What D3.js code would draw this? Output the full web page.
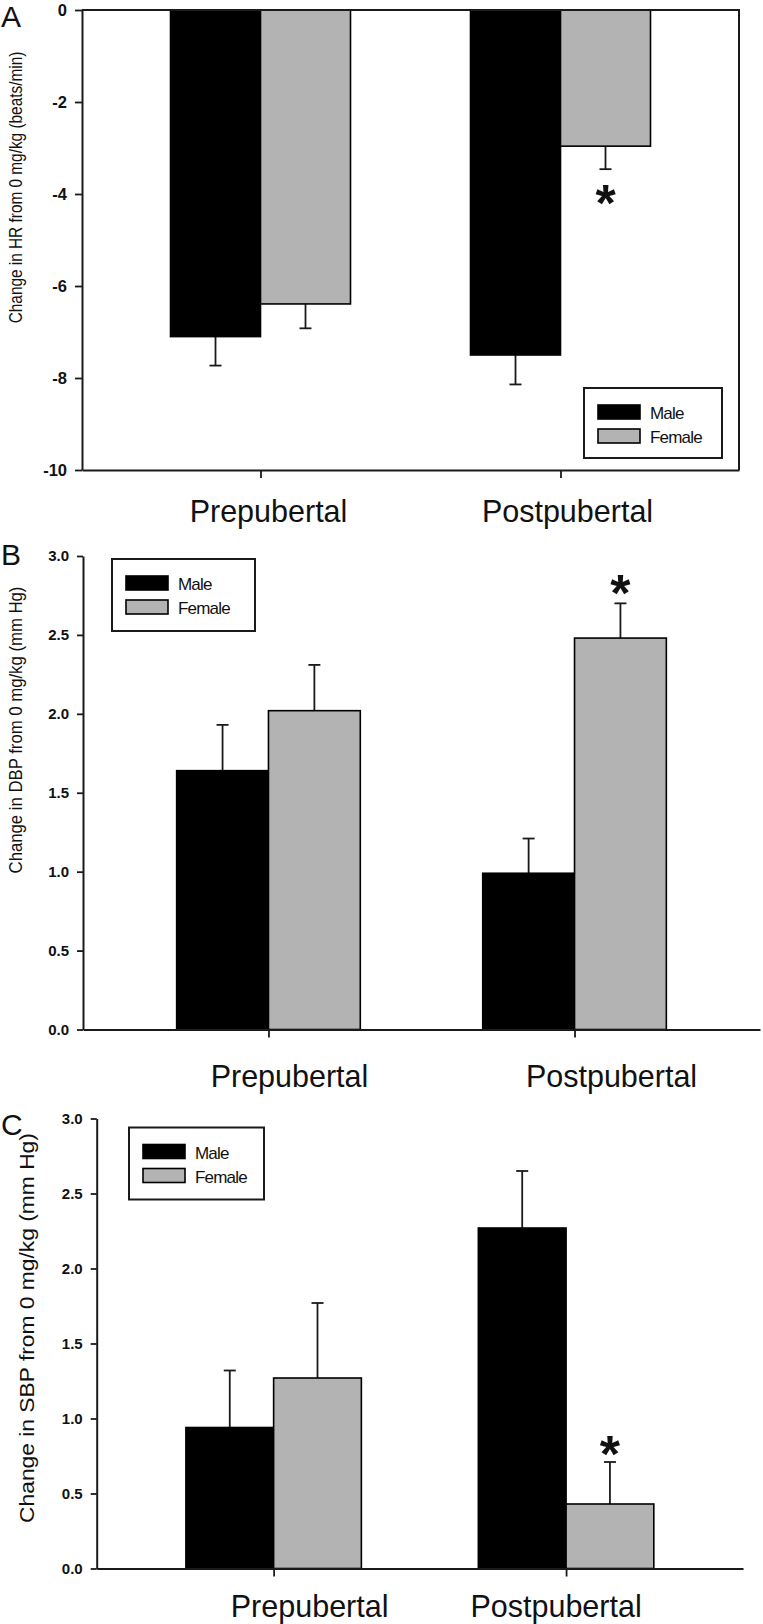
<!DOCTYPE html>
<html>
<head>
<meta charset="utf-8">
<script src="https://cdn.jsdelivr.net/npm/d3@7"></script>
<style>
  html, body { margin: 0; padding: 0; background: #fff; }
  svg { display: block; }
  text { font-family: "Liberation Sans", Arial, Helvetica, sans-serif; }
</style>
</head>
<body>
<svg id="chart" width="763" height="1624"></svg>
<script>
// ---------------- DATA ----------------
const categories = ["Prepubertal", "Postpubertal"];
const seriesNames = ["Male", "Female"];

// Panel A: change in HR (beats/min)
const hrMale = [-7.10, -7.50];
const hrMaleErr = [0.63, 0.64];
const hrFemale = [-6.39, -2.96];
const hrFemaleErr = [0.53, 0.50];
const hrTicks = [0, -2, -4, -6, -8, -10];
const hrTitle = "Change in HR from 0 mg/kg (beats/min)";

// Panel B: change in DBP (mm Hg)
const dbpMale = [1.64, 0.99];
const dbpMaleErr = [0.29, 0.22];
const dbpFemale = [2.02, 2.48];
const dbpFemaleErr = [0.29, 0.22];
const dbpTicks = [0, 0.5, 1.0, 1.5, 2.0, 2.5, 3.0];
const dbpTitle = "Change in DBP from 0 mg/kg (mm Hg)";

// Panel C: change in SBP (mm Hg)
const sbpMale = [0.94, 2.27];
const sbpMaleErr = [0.38, 0.38];
const sbpFemale = [1.27, 0.43];
const sbpFemaleErr = [0.50, 0.28];
const sbpTicks = [0, 0.5, 1.0, 1.5, 2.0, 2.5, 3.0];
const sbpTitle = "Change in SBP from 0 mg/kg (mm Hg)";

// significance markers: [category, series]
const hrSig = [["Postpubertal", "Female"]];
const dbpSig = [["Postpubertal", "Female"]];
const sbpSig = [["Postpubertal", "Female"]];

const colors = { Male: "#000000", Female: "#b3b3b3" };

// ---------------- LAYOUT ----------------
const panels = [
  {
    letter: "A", letterY: 27,
    male: hrMale, maleErr: hrMaleErr, female: hrFemale, femaleErr: hrFemaleErr,
    ticks: hrTicks, fmt: d => String(d), domain: [-10, 0],
    title: hrTitle, titleX: 15, titleY: 187.5, titleLen: 272, titleSize: 19,
    x0: 82, x1: 739, yTop: 10, yBot: 470, frame: true, pad: 0.595,
    tickFont: 16.5, tickLen: 7,
    labelBase: 522, labelDx: [8, 7],
    legend: { x: 584, y: 388, w: 138, h: 70 },
    sig: hrSig, sigOffset: 26
  },
  {
    letter: "B", letterY: 565,
    male: dbpMale, maleErr: dbpMaleErr, female: dbpFemale, femaleErr: dbpFemaleErr,
    ticks: dbpTicks, fmt: d3.format(".1f"), domain: [0, 3],
    title: dbpTitle, titleX: 15.5, titleY: 730, titleLen: 287, titleSize: 19,
    x0: 83, x1: 760, yTop: 556, yBot: 1029.5, frame: false, pad: 0.606,
    tickFont: 15, tickLen: 6,
    labelBase: 1087, labelDx: [21, 37],
    legend: { x: 112, y: 559, w: 143, h: 72 },
    sig: dbpSig, sigOffset: -18
  },
  {
    letter: "C", letterY: 1135,
    male: sbpMale, maleErr: sbpMaleErr, female: sbpFemale, femaleErr: sbpFemaleErr,
    ticks: sbpTicks, fmt: d3.format(".1f"), domain: [0, 3],
    title: sbpTitle, titleX: 27, titleY: 1328, titleLen: 390, titleSize: 20,
    x0: 96.7, x1: 743, yTop: 1118.5, yBot: 1568.5, frame: false, pad: 0.605,
    tickFont: 15, tickLen: 6,
    labelBase: 1617, labelDx: [36, -10],
    legend: { x: 129, y: 1127.5, w: 135, h: 72 },
    sig: sbpSig, sigOffset: -16
  }
];

const svg = d3.select("#chart");
svg.append("rect").attr("width", 763).attr("height", 1624).attr("fill", "#fff");

const AXIS = "#1a1a1a";

panels.forEach(p => {
  const g = svg.append("g");
  const y = d3.scaleLinear().domain(p.domain).range([p.yBot, p.yTop]);
  const x = d3.scalePoint().domain(categories).range([p.x0, p.x1]).padding(p.pad);
  const step = x.step();
  const xs = d3.scaleBand().domain(seriesNames).range([-0.3 * step, 0.3 * step]).padding(0);

  const rows = [];
  categories.forEach((c, i) => {
    rows.push({ cat: c, ser: "Male", v: p.male[i], e: p.maleErr[i] });
    rows.push({ cat: c, ser: "Female", v: p.female[i], e: p.femaleErr[i] });
  });

  // error bars (drawn first so bars cover the inner part)
  const capW = 12;
  rows.forEach(r => {
    const cx = x(r.cat) + xs(r.ser) + xs.bandwidth() / 2;
    const end = r.v >= 0 ? r.v + r.e : r.v - r.e;
    g.append("line").attr("x1", cx).attr("x2", cx)
      .attr("y1", y(r.v)).attr("y2", y(end))
      .attr("stroke", AXIS).attr("stroke-width", 1.8);
    g.append("line").attr("x1", cx - capW / 2).attr("x2", cx + capW / 2)
      .attr("y1", y(end)).attr("y2", y(end))
      .attr("stroke", AXIS).attr("stroke-width", 1.8);
  });

  // bars
  g.selectAll("rect.bar").data(rows).join("rect")
    .attr("class", "bar")
    .attr("x", r => x(r.cat) + xs(r.ser))
    .attr("width", xs.bandwidth())
    .attr("y", r => Math.min(y(r.v), y(0)))
    .attr("height", r => Math.abs(y(r.v) - y(0)))
    .attr("fill", r => colors[r.ser])
    .attr("stroke", "#000").attr("stroke-width", 1.6);

  // significance asterisks
  p.sig.forEach(([c, s]) => {
    const r = rows.find(d => d.cat === c && d.ser === s);
    const cx = x(r.cat) + xs(r.ser) + xs.bandwidth() / 2;
    const end = r.v >= 0 ? r.v + r.e : r.v - r.e;
    const cy = y(end) + p.sigOffset;
    g.append("text").attr("x", cx).attr("y", cy + 26)
      .attr("text-anchor", "middle").attr("font-size", 52).attr("font-weight", "bold")
      .attr("fill", "#111").text("*");
  });

  // y axis
  const yAxis = d3.axisLeft(y).tickValues(p.ticks).tickFormat(p.fmt)
    .tickSizeInner(p.tickLen).tickSizeOuter(0).tickPadding(8);
  const ya = g.append("g").attr("transform", `translate(${p.x0},0)`).call(yAxis);
  ya.select(".domain").attr("stroke", AXIS).attr("stroke-width", 2);
  ya.selectAll(".tick line").attr("stroke", AXIS).attr("stroke-width", 1.8);
  ya.selectAll(".tick text").attr("font-size", p.tickFont).attr("font-weight", "bold")
    .attr("fill", "#111").attr("font-family", "'Liberation Sans', Arial, sans-serif");

  // x axis
  const xAxis = d3.axisBottom(x).tickSizeInner(8).tickSizeOuter(0).tickFormat("");
  const xa = g.append("g").attr("transform", `translate(0,${p.yBot})`).call(xAxis);
  xa.select(".domain").attr("stroke", AXIS).attr("stroke-width", 2);
  xa.selectAll(".tick line").attr("stroke", AXIS).attr("stroke-width", 1.8);

  // category labels
  categories.forEach((c, i) => {
    g.append("text").attr("x", x(c) + p.labelDx[i]).attr("y", p.labelBase)
      .attr("text-anchor", "middle").attr("font-size", 30.5).attr("fill", "#111").text(c);
  });

  // frame for panel A
  if (p.frame) {
    g.append("path")
      .attr("d", `M${p.x0},${p.yTop}H${p.x1}V${p.yBot}`)
      .attr("fill", "none").attr("stroke", AXIS).attr("stroke-width", 2);
  }

  // y title (horizontally condensed to the measured length)
  const t = g.append("text")
    .attr("text-anchor", "middle").attr("dominant-baseline", "central")
    .attr("font-size", p.titleSize).attr("fill", "#111")
    .text(p.title);
  const natural = t.node().getComputedTextLength() || p.titleLen;
  const sx = p.titleLen / natural;
  t.attr("transform", `translate(${p.titleX},${p.titleY}) rotate(-90) scale(${sx},1)`);

  // panel letter
  g.append("text").attr("x", 1).attr("y", p.letterY)
    .attr("font-size", 30).attr("fill", "#111").text(p.letter);

  // legend
  const L = p.legend;
  const lg = g.append("g").attr("transform", `translate(${L.x},${L.y})`);
  lg.append("rect").attr("width", L.w).attr("height", L.h)
    .attr("fill", "#fff").attr("stroke", AXIS).attr("stroke-width", 2);
  seriesNames.forEach((s, i) => {
    const ry = 17 + i * 24;
    lg.append("rect").attr("x", 14).attr("y", ry).attr("width", 42).attr("height", 14)
      .attr("fill", colors[s]).attr("stroke", "#000").attr("stroke-width", 1.6);
    lg.append("text").attr("x", 66).attr("y", ry + 14)
      .attr("font-size", 17).attr("letter-spacing", -0.8).attr("fill", "#111").text(s);
  });
});
</script>
</body>
</html>
